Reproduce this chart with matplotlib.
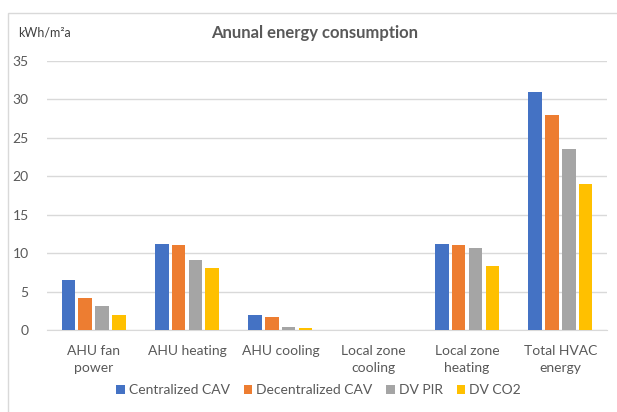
import matplotlib
matplotlib.use('agg')
import matplotlib.pyplot as plt
import numpy as np
from matplotlib.patches import Rectangle

categories = ["AHU fan\npower", "AHU heating", "AHU cooling",
              "Local zone\ncooling", "Local zone\nheating", "Total HVAC\nenergy"]
series_names = ["Centralized CAV", "Decentralized CAV", "DV PIR", "DV CO2"]
centralized_cav = [6.45, 11.2, 1.9, 0.0, 11.2, 30.9]
decentralized_cav = [4.2, 11.0, 1.65, 0.0, 11.0, 28.0]
dv_pir = [3.15, 9.05, 0.45, 0.0, 10.7, 23.55]
dv_co2 = [2.0, 8.1, 0.25, 0.0, 8.35, 18.95]
colors = ["#4472C4", "#ED7D31", "#A5A5A5", "#FFC000"]

plt.rcParams['font.family'] = ['Lato', 'DejaVu Sans']
text_col = "#595959"

fig = plt.figure(figsize=(6.17, 4.12), dpi=100)
ax = fig.add_axes([0.076, 0.199, 0.908, 0.653])

x = np.arange(len(categories))
step = 0.18
width = 0.145
all_series = [centralized_cav, decentralized_cav, dv_pir, dv_co2]
for i, (vals, name, c) in enumerate(zip(all_series, series_names, colors)):
    ax.bar(x + (i - 1.5) * step, vals, width, color=c, label=name, zorder=3)

ax.set_xlim(-0.5, len(categories) - 0.5)
ax.set_ylim(0, 35)
ax.set_yticks(range(0, 36, 5))
ax.yaxis.grid(True, color="#D9D9D9", linewidth=1, zorder=0)
ax.set_xticks(x)
ax.set_xticklabels(categories, fontsize=10, color=text_col, linespacing=1.5)
for lbl in ax.get_yticklabels():
    lbl.set_fontsize(10)
    lbl.set_color(text_col)
ax.tick_params(length=0)
ax.tick_params(axis='x', pad=11)
ax.tick_params(axis='y', pad=13)
for s in ["top", "right", "left"]:
    ax.spines[s].set_visible(False)
ax.spines["bottom"].set_color("#D9D9D9")

fig.text(0.51, 0.92, "Anunal energy consumption", ha="center", va="center",
         fontsize=12, color=text_col, fontweight="bold")
fig.text(0.029, 0.92, "kWh/m²a", ha="left", va="center", fontsize=9, color="#404040")

ax.legend(loc="center", bbox_to_anchor=(0.485, -0.224), ncol=4, frameon=False,
          fontsize=10, handlelength=0.6, handleheight=0.6, handletextpad=0.3,
          columnspacing=1.0, labelcolor=text_col)

fig.patches.append(Rectangle((8 / 617, -0.1), 1.0, 1.1 - 13 / 412, transform=fig.transFigure,
                             fill=False, edgecolor="#D9D9D9", linewidth=1))

plt.savefig("out.png", dpi=100)
